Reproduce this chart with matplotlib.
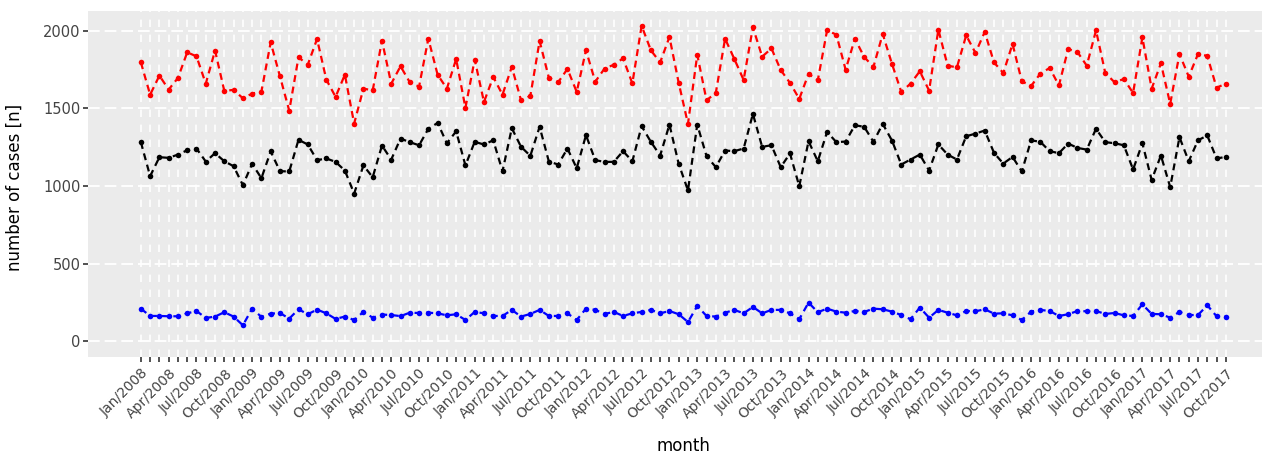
import matplotlib
matplotlib.use("Agg")
import matplotlib.pyplot as plt
import numpy as np
import pandas as pd

# Monthly case counts, Jan/2008 .. Oct/2017
months = pd.date_range("2008-01-01", "2017-10-01", freq="MS")
month_labels = [d.strftime("%b/%Y") if d.month in (1, 4, 7, 10) else "" for d in months]

cases_red = [
    1797, 1589, 1712, 1622, 1697, 1862, 1836, 1660, 1873, 1613,
    1620, 1566, 1596, 1609, 1926, 1707, 1486, 1830, 1782, 1948,
    1686, 1575, 1718, 1403, 1628, 1617, 1937, 1660, 1772, 1669,
    1641, 1950, 1718, 1628, 1819, 1504, 1815, 1542, 1703, 1589,
    1768, 1553, 1581, 1935, 1697, 1669, 1755, 1607, 1875, 1673,
    1757, 1782, 1823, 1662, 2033, 1875, 1797, 1961, 1665, 1401,
    1847, 1553, 1600, 1950, 1819, 1684, 2023, 1834, 1887, 1748,
    1665, 1562, 1723, 1682, 2003, 1976, 1750, 1950, 1832, 1768,
    1980, 1787, 1607, 1660, 1740, 1615, 2008, 1776, 1765, 1971,
    1858, 1993, 1797, 1729, 1916, 1675, 1645, 1725, 1761, 1649,
    1883, 1864, 1776, 2003, 1729, 1669, 1690, 1600, 1958, 1628,
    1791, 1530, 1851, 1705, 1851, 1839, 1634, 1660,
]

cases_black = [
    1283, 1064, 1186, 1182, 1203, 1231, 1242, 1158, 1212, 1160,
    1128, 1006, 1143, 1051, 1223, 1096, 1094, 1298, 1268, 1167,
    1178, 1156, 1100, 952, 1133, 1057, 1261, 1171, 1306, 1283,
    1263, 1369, 1407, 1276, 1353, 1133, 1285, 1268, 1295, 1096,
    1373, 1253, 1195, 1382, 1158, 1139, 1242, 1115, 1328, 1167,
    1156, 1156, 1225, 1160, 1386, 1285, 1197, 1396, 1143, 972,
    1396, 1193, 1122, 1229, 1225, 1242, 1465, 1253, 1263, 1122,
    1210, 999, 1289, 1160, 1349, 1283, 1287, 1392, 1382, 1285,
    1401, 1293, 1139, 1171, 1203, 1100, 1268, 1203, 1171, 1321,
    1338, 1358, 1214, 1145, 1188, 1094, 1295, 1285, 1225, 1212,
    1274, 1246, 1235, 1369, 1283, 1276, 1263, 1107, 1276, 1040,
    1197, 993, 1315, 1160, 1295, 1326, 1178, 1188,
]

cases_blue = [
    210, 163, 163, 161, 161, 180, 195, 150, 159, 187,
    159, 103, 210, 157, 178, 182, 146, 206, 174, 204,
    180, 144, 159, 137, 189, 152, 172, 169, 162, 184,
    182, 184, 180, 167, 174, 137, 189, 180, 163, 163,
    202, 159, 176, 202, 163, 163, 180, 137, 210, 202,
    176, 189, 163, 180, 189, 202, 180, 195, 174, 124,
    227, 163, 159, 184, 202, 180, 221, 180, 202, 202,
    180, 142, 249, 187, 210, 191, 184, 195, 189, 210,
    206, 191, 169, 142, 217, 152, 202, 184, 167, 195,
    193, 206, 178, 180, 167, 137, 191, 202, 195, 163,
    174, 195, 193, 195, 176, 182, 167, 163, 238, 176,
    174, 152, 189, 169, 169, 232, 161, 157,
]

plt.rcParams["font.family"] = ["DejaVu Sans"]
plt.rcParams["lines.scale_dashes"] = False

W, H = 1262, 457
fig = plt.figure(figsize=(W / 100, H / 100), dpi=100)
left, right, top, bottom = 88, 1262, 10.5, 357
ax = fig.add_axes([left / W, 1 - bottom / H, (right - left) / W, (bottom - top) / H])
ax.set_facecolor("#EBEBEB")

x = np.arange(len(months))

# white dashed grid: horizontal at the major y ticks, vertical at every month
for yv in [0, 500, 1000, 1500, 2000]:
    ax.axhline(yv, color="white", lw=1.3, dashes=(8.4, 3.6), zorder=0.5)
for xv in x:
    ax.axvline(xv, color="white", lw=1.2, dashes=(5.3, 5.5), zorder=0.6)

for vals, col in [(cases_red, "#FF0000"), (cases_black, "#000000"), (cases_blue, "#0000FF")]:
    ax.plot(x, vals, color=col, lw=1.6, dashes=(5.0, 3.4),
            marker="o", ms=4.0, mew=0, zorder=3)

ax.set_xlim(-5.7, len(months) - 1 + 3.9)
ax.set_ylim(-101.5, 2131.5)
ax.set_yticks([0, 500, 1000, 1500, 2000])
ax.set_xticks(x)
ax.set_xticklabels(month_labels, rotation=45, ha="right", va="top",
                   rotation_mode="anchor")

for s in ax.spines.values():
    s.set_visible(False)

ax.tick_params(axis="both", colors="#333333", width=1.2, length=3.4,
               labelcolor="#444444")
ax.tick_params(axis="y", labelsize=10.5, pad=2)
ax.tick_params(axis="x", labelsize=10, pad=3)

ax.set_ylabel("number of cases [n]", fontsize=12, color="black")
ax.yaxis.set_label_coords((15 - left) / (right - left), 0.49)
ax.yaxis.label.set_va("center")

ax.set_xlabel("month", fontsize=12, color="black")
ax.xaxis.set_label_coords((683 - left) / (right - left), (bottom - 446) / (bottom - top))
ax.xaxis.label.set_va("center")

fig.savefig("out.png", dpi=100)
